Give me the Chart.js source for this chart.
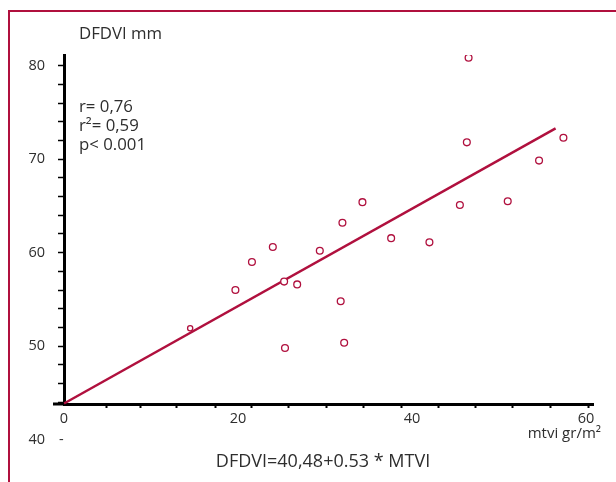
<!DOCTYPE html>
<html>
<head>
<meta charset="utf-8">
<script src="https://cdn.jsdelivr.net/npm/chart.js@4/dist/chart.umd.min.js"></script>
<style>
  html, body { margin: 0; padding: 0; background: #fff; }
  #wrap { width: 616px; height: 482px; }
</style>
</head>
<body>
<div id="wrap"><canvas id="chart" width="616" height="482"></canvas></div>
<script>
// values
const mtvi  = [14.5, 19.7, 21.6, 24.0, 25.3, 26.8, 29.4, 32.0, 34.3, 31.8, 25.4, 32.2, 37.6, 42.0, 45.5, 51.0, 54.6, 46.3, 46.5, 57.4];
const dfdvi = [51.9, 56.0, 59.0, 60.6, 56.9, 56.6, 60.2, 63.2, 65.4, 54.8, 49.8, 50.35, 61.55, 61.1, 65.1, 65.5, 69.85, 71.8, 80.85, 72.3];
const fitX = [0, 56.5];
const fitY = [43.85, 73.3];

const xLabelTicks = [0, 20, 40, 60];
const xMinorTicks = [4.9, 8.74, 12.95, 17.36, 21.57, 25.86, 30.2, 34.45, 38.74, 43.1, 47.32, 51.57, 55.86, 60.26];
const yLabelTicks = [50, 60, 70, 80];
const yTicks = [44, 46, 48, 50, 52, 54, 56, 58, 60, 62, 64, 66, 68, 70, 72, 74, 76, 78, 80];

const RED = '#b0103e';
const TEXT = '#2e2e2e';
const FONT = '"Open Sans", "Noto Sans", sans-serif';

const decor = {
  id: 'decor',
  afterDraw(chart) {
    const { ctx, scales: { x, y } } = chart;
    ctx.save();
    // frame
    ctx.strokeStyle = RED;
    ctx.lineWidth = 2;
    ctx.strokeRect(9, 11, 800, 800);
    // x axis stub left of the y axis
    ctx.strokeStyle = '#000';
    ctx.lineWidth = 3;
    ctx.beginPath();
    ctx.moveTo(x.getPixelForValue(0) - 11, y.bottom);
    ctx.lineTo(x.getPixelForValue(0), y.bottom);
    ctx.stroke();

    ctx.fillStyle = TEXT;
    ctx.textBaseline = 'middle';
    ctx.font = '16.8px ' + FONT;
    ctx.textAlign = 'left';
    ctx.fillText('DFDVI mm', 79, 34);
    ctx.fillText('r= 0,76', 79, 107);
    ctx.fillText('r\u00B2= 0,59', 79, 126);
    ctx.fillText('p< 0.001', 79, 145);

    ctx.font = '14.5px ' + FONT;
    ctx.textAlign = 'right';
    const y40 = y.getPixelForValue(40);
    ctx.fillText('40', 45, y40);
    ctx.textAlign = 'left';
    ctx.fillText('-', 59, y40);
    ctx.textAlign = 'right';
    ctx.font = '15px ' + FONT;
    ctx.fillText('mtvi gr/m\u00B2', 601, 434);

    ctx.font = '18px ' + FONT;
    ctx.textAlign = 'center';
    ctx.fillText('DFDVI=40,48+0.53 * MTVI', 323, 462);
    ctx.restore();
  }
};

new Chart(document.getElementById('chart'), {
  type: 'scatter',
  data: {
    datasets: [
      {
        type: 'scatter',
        data: mtvi.map((v, i) => ({ x: v, y: dfdvi[i] })),
        pointStyle: 'circle',
        pointRadius: c => c.dataIndex === 0 ? 2.6 : 3.4,
        pointBorderWidth: 1.3,
        pointBorderColor: RED,
        pointBackgroundColor: '#fff',
        order: 1,
      },
      {
        type: 'line',
        data: fitX.map((v, i) => ({ x: v, y: fitY[i] })),
        borderColor: RED,
        borderWidth: 2.5,
        pointRadius: 0,
        fill: false,
        clip: false,
        order: 2,
      },
    ],
  },
  options: {
    responsive: false,
    animation: false,
    layout: { padding: { top: 55, right: 23, left: 0, bottom: 0 } },
    plugins: { legend: { display: false }, tooltip: { enabled: false } },
    scales: {
      x: {
        type: 'linear',
        min: 0,
        max: 60.8,
        afterFit: s => { s.height = 78; },
        afterBuildTicks: s => {
          s.ticks = xLabelTicks.concat(xMinorTicks).sort((a, b) => a - b).map(v => ({ value: v }));
        },
        grid: {
          drawOnChartArea: false,
          drawTicks: true,
          tickLength: 4,
          tickWidth: 2,
          tickColor: c => (c.tick && xLabelTicks.includes(c.tick.value)) ? 'rgba(0,0,0,0)' : '#000',
        },
        border: { display: true, color: '#000', width: 3 },
        ticks: {
          autoSkip: false,
          maxRotation: 0,
          padding: 2,
          color: TEXT,
          font: { family: FONT, size: 14.5 },
          callback: v => xLabelTicks.includes(v) ? String(v) : '',
        },
      },
      y: {
        type: 'linear',
        min: 43.8,
        max: 81.15,
        afterFit: s => { s.width = 64; },
        afterBuildTicks: s => { s.ticks = yTicks.map(v => ({ value: v })); },
        grid: {
          drawOnChartArea: false,
          drawTicks: true,
          tickLength: 6,
          tickWidth: 1.5,
          tickColor: '#000',
        },
        border: { display: true, color: '#000', width: 3 },
        ticks: {
          autoSkip: false,
          padding: 13,
          color: TEXT,
          font: { family: FONT, size: 14.5 },
          callback: v => yLabelTicks.includes(v) ? String(v) : '',
        },
      },
    },
  },
  plugins: [decor],
});
</script>
</body>
</html>
